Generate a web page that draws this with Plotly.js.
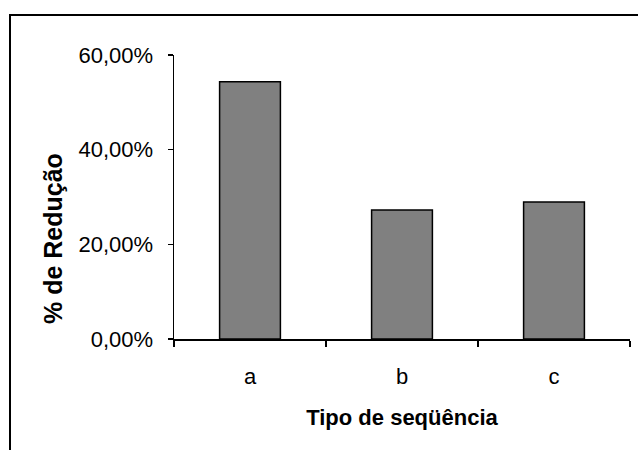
<!DOCTYPE html>
<html>
<head>
<meta charset="utf-8">
<script src="https://cdn.plot.ly/plotly-3.0.1.min.js"></script>
<style>html,body{margin:0;padding:0;background:#fff;}#chart{width:638px;height:450px;}</style>
</head>
<body>
<div id="chart"></div>
<script>
const categories = ["a", "b", "c"];
const reducao = [0.5436, 0.2725, 0.2894];
const yTicks = [0, 0.2, 0.4, 0.6];
const xTitle = "Tipo de seqüência";
const yTitle = "% de Redução";

const font = "Liberation Sans, Arial, sans-serif";
const L = 174, R = 630, T = 55, B = 339;
const W = R - L, H = B - T;
const px = v => (v - L) / W;
const py = v => (B - v) / H;

const trace = {
  type: "bar",
  x: categories,
  y: reducao,
  marker: {color: "#808080", line: {color: "#000000", width: 1.5}},
  hoverinfo: "skip"
};

const layout = {
  width: 638, height: 450,
  margin: {l: L, r: 638 - R, t: T, b: 450 - B, pad: 0},
  paper_bgcolor: "#ffffff", plot_bgcolor: "#ffffff",
  separators: ",.",
  bargap: 0.6,
  showlegend: false,
  font: {family: font, color: "#000000"},
  xaxis: {
    type: "category",
    range: [-0.5, 2.5],
    showline: true, linecolor: "#000000", linewidth: 2,
    ticks: "outside", ticklen: 6, tickwidth: 1.5, tickcolor: "#000000",
    tickson: "boundaries",
    ticklabelstandoff: 17,
    tickfont: {family: font, size: 22, color: "#000000"},
    showgrid: false, zeroline: false,
    title: {text: xTitle, font: {family: font, size: 22, color: "#000000", weight: "bold"}, standoff: 21}
  },
  yaxis: {
    range: [0, 0.6],
    tickvals: yTicks,
    tickformat: ".2%",
    showline: true, linecolor: "#000000", linewidth: 1.5,
    ticks: "outside", ticklen: 5, tickwidth: 1.5, tickcolor: "#000000",
    ticklabelstandoff: 10,
    tickfont: {family: font, size: 22, color: "#000000"},
    showgrid: false, zeroline: false
  },
  annotations: [{
    xref: "paper", yref: "paper",
    x: px(53), y: py(239),
    text: "<b>" + yTitle + "</b>",
    textangle: -90, showarrow: false,
    font: {family: font, size: 25, color: "#000000"},
    xanchor: "center", yanchor: "middle"
  }],
  shapes: [{
    type: "rect", xref: "paper", yref: "paper",
    x0: px(10), x1: px(660), y0: py(470), y1: py(15),
    line: {color: "#000000", width: 2}, fillcolor: "rgba(0,0,0,0)", layer: "above"
  }]
};

Plotly.newPlot("chart", [trace], layout, {staticPlot: true, displayModeBar: false});
</script>
</body>
</html>
